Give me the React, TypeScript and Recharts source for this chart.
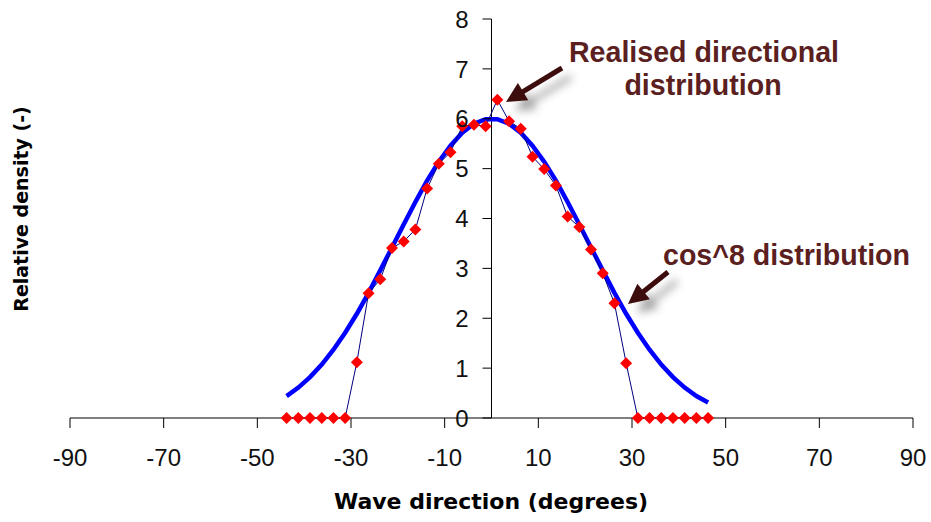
import { LineChart, Line, XAxis, YAxis, ReferenceLine } from 'recharts'

const DIRECTION = [
  -43.75, -41.25, -38.75, -36.25, -33.75, -31.25, -28.75, -26.25, -23.75, -21.25, -18.75, -16.25, -13.75,
  -11.25, -8.75, -6.25, -3.75, -1.25, 1.25, 3.75, 6.25, 8.75, 11.25, 13.75, 16.25, 18.75, 21.25, 23.75,
  26.25, 28.75, 31.25, 33.75, 36.25, 38.75, 41.25, 43.75, 46.25,
]

const REALISED = [
  0, 0, 0, 0, 0, 0, 1.12, 2.5, 2.78, 3.41, 3.54, 3.78, 4.6,
  5.1, 5.33, 5.85, 5.88, 5.85, 6.38, 5.95, 5.8, 5.24, 4.99, 4.66, 4.04, 3.83, 3.38, 2.9,
  2.3, 1.1, 0, 0, 0, 0, 0, 0, 0,
]

const COS8 = [
  0.44, 0.61, 0.82, 1.07, 1.37, 1.71, 2.09, 2.51, 2.96, 3.42, 3.88, 4.33, 4.76,
  5.14, 5.46, 5.72, 5.9, 5.99, 5.99, 5.9, 5.72, 5.46, 5.14, 4.76, 4.33, 3.88, 3.42, 2.96,
  2.51, 2.09, 1.71, 1.37, 1.07, 0.82, 0.61, 0.44, 0.31,
]

const X_TICKS = [-90, -70, -50, -30, -10, 10, 30, 50, 70, 90]
const Y_TICKS = [0, 1, 2, 3, 4, 5, 6, 7, 8]

const data = DIRECTION.map((dir, i) => ({ dir, realised: REALISED[i], cos8: COS8[i] }))

const W = 931
const H = 522
const Y_AXIS_W = 70
const X_AXIS_H = 104
const RIGHT = 18
// the vertical axis crosses at direction 0, which is the middle of the plot
const ZERO_X = Y_AXIS_W + (W - Y_AXIS_W - RIGHT) / 2

const NOTE = '#5B1F1F'
const ARROW = '#3D0A0A'

function YTick({ y, payload }: any) {
  return (
    <g>
      <line x1={ZERO_X - 9} x2={ZERO_X} y1={y} y2={y} stroke="#000" />
      <text
        x={ZERO_X - 23}
        y={y}
        dy="0.36em"
        textAnchor="end"
        fontSize={24}
        fontFamily="Liberation Sans, Arial, sans-serif"
        fill="#111"
      >
        {payload.value}
      </text>
    </g>
  )
}

function Diamond({ cx, cy, index }: any) {
  if (cx == null || cy == null) return <g key={index} />
  const r = 6
  return (
    <polygon
      key={index}
      points={`${cx},${cy - r} ${cx + r},${cy} ${cx},${cy + r} ${cx - r},${cy}`}
      fill="#FF0000"
    />
  )
}

function Arrow({ from, to }: { from: [number, number]; to: [number, number] }) {
  const [x1, y1] = from
  const [x2, y2] = to
  const len = Math.hypot(x2 - x1, y2 - y1)
  const ux = (x2 - x1) / len
  const uy = (y2 - y1) / len
  const head = 20
  const hw = 10
  const bx = x2 - ux * head
  const by = y2 - uy * head
  return (
    <g filter="url(#shadow)">
      <line x1={x1} y1={y1} x2={bx + ux * 2} y2={by + uy * 2} stroke={ARROW} strokeWidth={5} />
      <polygon
        points={`${x2},${y2} ${bx - uy * hw},${by + ux * hw} ${bx + uy * hw},${by - ux * hw}`}
        fill={ARROW}
      />
    </g>
  )
}

export default function App() {
  return (
    <div style={{ position: 'absolute', left: 0, top: 0, width: W, height: H, background: '#fff' }}>
      <LineChart width={W} height={H} data={data} margin={{ top: 19, right: RIGHT, bottom: 0, left: 0 }}>
        <XAxis
          dataKey="dir"
          type="number"
          domain={[-90, 90]}
          ticks={X_TICKS}
          height={X_AXIS_H}
          axisLine={{ stroke: '#000' }}
          tickLine={{ stroke: '#000' }}
          tickSize={10}
          tickMargin={21}
          tick={{ fontSize: 24, fill: '#111', fontFamily: 'Liberation Sans, Arial, sans-serif' }}
        />
        <YAxis
          type="number"
          domain={[0, 8]}
          ticks={Y_TICKS}
          width={Y_AXIS_W}
          axisLine={false}
          tickLine={false}
          tick={<YTick />}
        />
        <ReferenceLine x={0} stroke="#000" strokeWidth={1} />
        <Line
          dataKey="cos8"
          type="linear"
          stroke="#0000FF"
          strokeWidth={4.5}
          dot={false}
          activeDot={false}
          isAnimationActive={false}
        />
        <Line
          dataKey="realised"
          type="linear"
          stroke="#000080"
          strokeWidth={1}
          dot={<Diamond />}
          activeDot={false}
          isAnimationActive={false}
        />
      </LineChart>

      <svg
        width={W}
        height={H}
        style={{ position: 'absolute', left: 0, top: 0, pointerEvents: 'none' }}
      >
        <defs>
          <filter id="shadow" x="-50%" y="-50%" width="200%" height="200%">
            <feDropShadow dx={9} dy={9} stdDeviation={4} floodColor="#000" floodOpacity={0.35} />
          </filter>
        </defs>
        <Arrow from={[562, 68]} to={[506, 102]} />
        <Arrow from={[668, 272]} to={[628, 304]} />
        <g fontFamily="Liberation Sans, Arial, sans-serif" fontWeight="bold" fontSize={28.6} fill={NOTE}>
          <text x={704} y={62} textAnchor="middle">Realised directional</text>
          <text x={703} y={95} textAnchor="middle">distribution</text>
          <text x={663} y={265}>cos^8 distribution</text>
        </g>
        <g fontFamily="DejaVu Sans, Verdana, sans-serif" fontWeight="bold" fill="#000">
          <text x={491} y={509} textAnchor="middle" fontSize={22}>
            Wave direction (degrees)
          </text>
          <text transform="translate(28,209) rotate(-90)" textAnchor="middle" fontSize={19}>
            Relative density (-)
          </text>
        </g>
      </svg>
    </div>
  )
}
